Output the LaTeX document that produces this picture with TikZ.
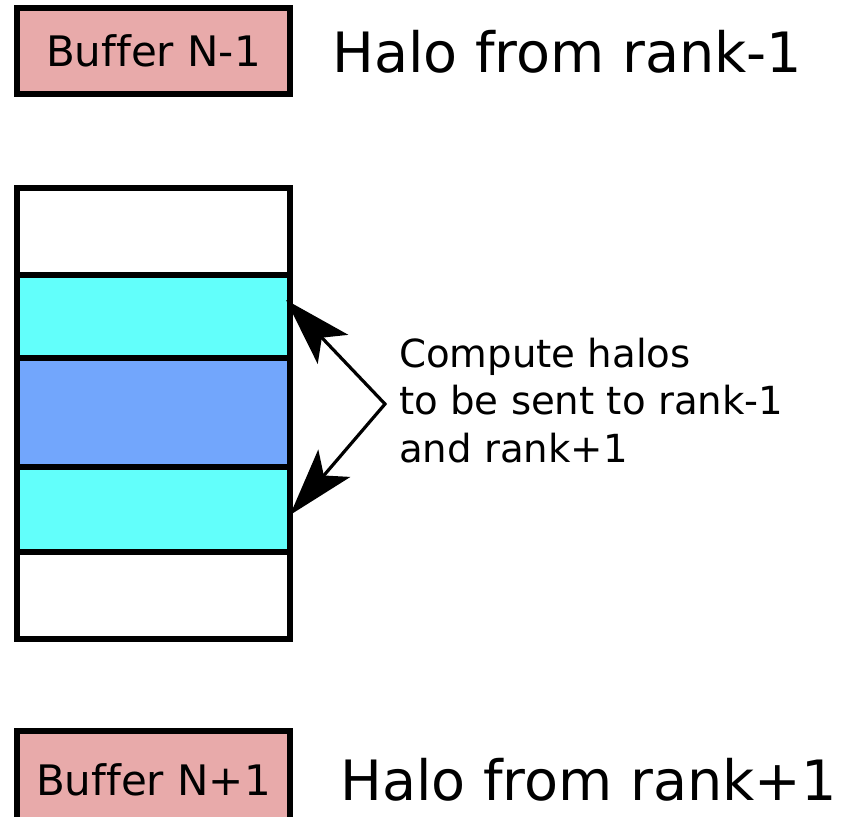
\documentclass[tikz,border=0pt]{standalone}
\usepackage{fontspec}
\setmainfont{DejaVu Sans}[Ligatures=NoCommon]
\usetikzlibrary{arrows.meta}
\definecolor{bufpink}{RGB}{232,170,170}
\definecolor{halocyan}{RGB}{98,255,251}
\definecolor{coreblue}{RGB}{114,166,252}
\tikzset{
  cell/.style={draw=black, line width=6pt, inner sep=0pt, outer sep=0pt,
    minimum width=273pt},
  bufbox/.style={cell, fill=bufpink,
    font=\fontsize{42}{50}\selectfont},
  halolabel/.style={anchor=base west, inner sep=0pt,
    font=\fontsize{55.6}{66}\selectfont},
  bighead/.tip={Stealth[length=68pt, width=42pt, inset=16pt]},
  sendarrow/.style={line width=3.2pt, line join=miter, arrows={bighead-bighead}}
}
\begin{document}
\begin{tikzpicture}[x=1pt, y=-1pt]
\useasboundingbox (0,0) rectangle (844,817);

% receive buffers
\node[bufbox, minimum height=86pt] (bufup) at (153.5,51) {Buffer N-1};
\node[bufbox, minimum height=97pt] (bufdown) at (153.5,779.5) {Buffer N+1};
\node[halolabel] (haloup) at (332,72) {Halo from rank-1};
\node[halolabel] (halodown) at (340,800) {Halo from rank+1};

% local domain, split into rows
\node[cell, fill=white, minimum height=87pt] (rowtop) at (153.5,231.5) {};
\node[cell, fill=halocyan, minimum height=83pt] (halo1) at (153.5,316.5) {};
\node[cell, fill=coreblue, minimum height=109pt] (core) at (153.5,412.5) {};
\node[cell, fill=halocyan, minimum height=85pt] (halo2) at (153.5,509.5) {};
\node[cell, fill=white, minimum height=87pt] (rowbot) at (153.5,595.5) {};

% annotation
\coordinate (fork) at (385,404);
\draw[sendarrow] ([shift={(-4,-16.5)}]halo1.east) -- (fork) -- ([shift={(0,5.5)}]halo2.east);
\node[anchor=base west, inner sep=0pt, align=left,
  font=\fontsize{38.7}{47.5}\selectfont] (note) at (399,462)
  {Compute halos\\to be sent to rank-1\\and rank+1};
\end{tikzpicture}
\end{document}
